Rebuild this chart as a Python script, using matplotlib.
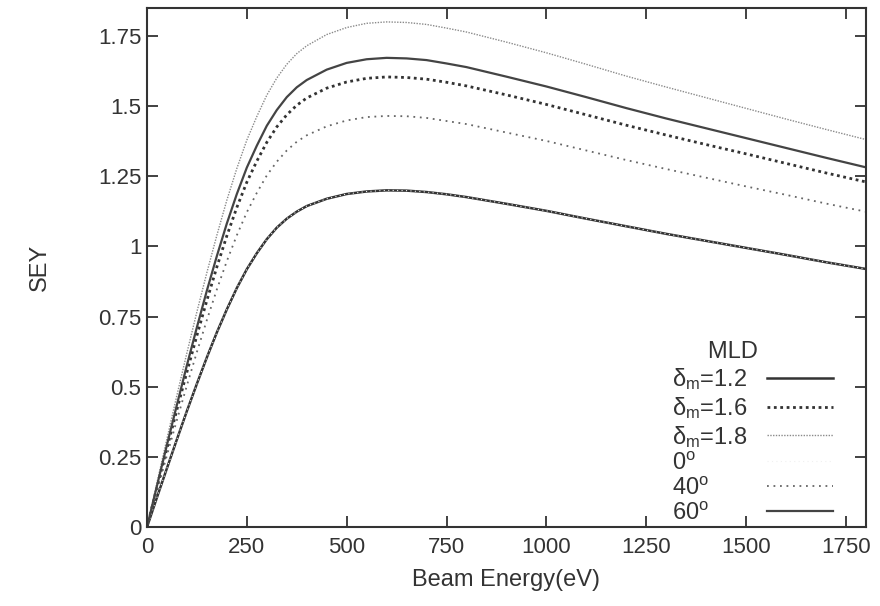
import matplotlib
matplotlib.use("Agg")
import matplotlib.pyplot as plt

plt.rcParams['font.family'] = ['Liberation Sans', 'DejaVu Sans']
plt.rcParams['mathtext.fontset'] = 'custom'
plt.rcParams['mathtext.rm'] = 'Liberation Sans'
plt.rcParams['mathtext.it'] = 'Liberation Sans'

# beam energy (eV)
energy = [0, 25, 50, 75, 100, 125, 150, 175, 200, 225, 250, 275, 300, 325,
          350, 375, 400, 450, 500, 550, 600, 650, 700, 750, 800, 850, 900,
          1000, 1100, 1200, 1300, 1400, 1500, 1600, 1700, 1800]

# SEY curves
sey_d12 = [0, 0.106, 0.210, 0.313, 0.414, 0.511, 0.605, 0.694, 0.776, 0.852,
           0.919, 0.976, 1.026, 1.067, 1.099, 1.124, 1.144, 1.170, 1.187,
           1.196, 1.200, 1.199, 1.194, 1.186, 1.176, 1.164, 1.152, 1.127,
           1.099, 1.072, 1.045, 1.020, 0.995, 0.970, 0.944, 0.920]
sey_d16 = [0, 0.141, 0.281, 0.419, 0.553, 0.683, 0.808, 0.927, 1.038, 1.139,
           1.229, 1.304, 1.371, 1.426, 1.469, 1.503, 1.529, 1.564, 1.586,
           1.599, 1.604, 1.602, 1.596, 1.585, 1.572, 1.556, 1.540, 1.506,
           1.469, 1.432, 1.397, 1.363, 1.330, 1.296, 1.262, 1.230]
sey_d18 = [0, 0.158, 0.315, 0.470, 0.621, 0.767, 0.907, 1.040, 1.165, 1.278,
           1.379, 1.463, 1.539, 1.600, 1.649, 1.687, 1.715, 1.755, 1.780,
           1.795, 1.800, 1.798, 1.791, 1.778, 1.764, 1.746, 1.728, 1.690,
           1.649, 1.607, 1.568, 1.530, 1.492, 1.454, 1.417, 1.381]
sey_a0 = sey_d12
sey_a40 = [0, 0.129, 0.256, 0.382, 0.505, 0.624, 0.738, 0.847, 0.948, 1.040,
           1.122, 1.191, 1.253, 1.302, 1.342, 1.373, 1.396, 1.428, 1.449,
           1.461, 1.465, 1.464, 1.458, 1.447, 1.436, 1.421, 1.406, 1.376,
           1.342, 1.308, 1.276, 1.245, 1.214, 1.184, 1.153, 1.124]
sey_a60 = [0, 0.147, 0.293, 0.436, 0.577, 0.712, 0.843, 0.966, 1.082, 1.187,
           1.281, 1.359, 1.430, 1.486, 1.532, 1.567, 1.593, 1.630, 1.654,
           1.667, 1.672, 1.670, 1.664, 1.652, 1.639, 1.622, 1.605, 1.570,
           1.532, 1.493, 1.456, 1.421, 1.386, 1.351, 1.316, 1.282]

labels = [r'$\delta_m$=1.2', r'$\delta_m$=1.6', r'$\delta_m$=1.8',
          r'0$^o$', r'40$^o$', r'60$^o$']

fig = plt.figure(figsize=(8.8, 6.06), dpi=100)
ax = fig.add_axes([0.167, 0.130, 0.817, 0.857])

ax.plot(energy, sey_d12, color='#333333', lw=1.8, ls='-', label=labels[0])
ax.plot(energy, sey_d16, color='#333333', lw=2.0, ls=(0, (1, 1.3)), label=labels[1])
ax.plot(energy, sey_d18, color='#8a8a8a', lw=1.0, ls=(0, (1, 1)), label=labels[2])
ax.plot(energy, sey_a0, color='#f0f0f0', lw=0.8, ls=(0, (1, 3)), label=labels[3])
ax.plot(energy, sey_a40, color='#666666', lw=1.3, ls=(0, (1, 2.6)), label=labels[4])
ax.plot(energy, sey_a60, color='#444444', lw=1.6, ls='-', label=labels[5])

ax.set_xlim(0, 1800)
ax.set_ylim(0, 1.85)
ax.set_xticks([0, 250, 500, 750, 1000, 1250, 1500, 1750])
ax.set_yticks([0, 0.25, 0.5, 0.75, 1, 1.25, 1.5, 1.75])
ax.set_yticklabels(['0', '0.25', '0.5', '0.75', '1', '1.25', '1.5', '1.75'])
ax.tick_params(direction='in', length=8, width=1.3, top=True, right=True,
               labelsize=16, colors='#333333')
ax.tick_params(axis='x', pad=7)
ax.tick_params(axis='y', pad=4)
for sp in ax.spines.values():
    sp.set_linewidth(1.5)
    sp.set_color('#333333')

ax.set_xlabel('Beam Energy(eV)', fontsize=17, color='#333333', labelpad=8)
ax.set_ylabel('SEY', fontsize=17, color='#333333', labelpad=34)

# trailing figure spaces nudge the centred title a little to the left
leg = ax.legend(title='MLD\u2007\u2007\u2007', loc='lower right',
                bbox_to_anchor=(0.954, 0.005),
                frameon=False, markerfirst=False, fontsize=17,
                title_fontsize=17, handlelength=2.8, labelspacing=0.12,
                borderpad=0, borderaxespad=0)
# texts flush left, samples flush right, as in the original
col = leg._legend_handle_box.get_children()[0]
col.width = 161
for row in col.get_children():
    row.mode = 'expand'
for t in leg.get_texts():
    t.set_color('#333333')
leg.get_title().set_color('#333333')

fig.savefig('out.png', dpi=100)
